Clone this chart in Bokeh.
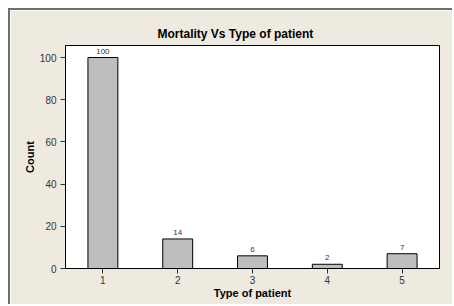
from bokeh.plotting import figure
from bokeh.models import ColumnDataSource, Range1d, FixedTicker, LabelSet
from bokeh.core.properties import value
from bokeh.embed import file_html
from bokeh.resources import INLINE

categories = [1, 2, 3, 4, 5]
counts = [100, 14, 6, 2, 7]
count_labels = ["100", "14", "6", "2", "7"]
y_ticks = [0, 20, 40, 60, 80, 100]

src = ColumnDataSource(dict(x=categories, top=counts, label=count_labels))

FONT = "Liberation Sans"
BG = "#eeeae0"

p = figure(width=444, height=296, output_backend="svg", toolbar_location=None,
           x_range=Range1d(0.5, 5.5), y_range=Range1d(0, 105.7),
           min_border_left=55, min_border_top=35, min_border_right=15, min_border_bottom=38,
           title="Mortality Vs Type of patient")
p.margin = (8, 0, 0, 8)
p.styles = {"border-left": "2px solid #6e6e6e", "border-top": "2px solid #6e6e6e"}
p.background_fill_color = "white"
p.border_fill_color = BG
p.outline_line_color = "black"
p.outline_line_width = 1
p.grid.visible = False

p.title.align = "left"
p.title.offset = 92
p.title.text_font = FONT
p.title.text_font_size = "12px"
p.title.text_font_style = "bold"
p.title.text_color = "black"
p.title.standoff = 9

p.vbar(x="x", top="top", width=0.4, bottom=0, source=src,
       fill_color="#bebebe", line_color="black", line_width=1)
p.add_layout(LabelSet(x="x", y="top", text="label", source=src, text_align="center",
                      text_baseline="bottom", y_offset=4, text_font_size=value("8px"),
                      text_font=value(FONT), text_color=value("#333333")))

for ax in (p.xaxis[0], p.yaxis[0]):
    ax.axis_line_color = "black"
    ax.major_tick_line_color = "#333333"
    ax.major_tick_out = 5
    ax.major_tick_in = 0
    ax.minor_tick_line_color = None
    ax.major_label_text_font = FONT
    ax.major_label_text_font_size = "10px"
    ax.major_label_text_color = "#333333"
    ax.axis_label_text_font = FONT
    ax.axis_label_text_font_size = "11px"
    ax.axis_label_text_font_style = "bold"
    ax.axis_label_text_color = "black"

p.xaxis.ticker = FixedTicker(ticks=categories)
p.yaxis.ticker = FixedTicker(ticks=y_ticks)
p.xaxis.axis_label = "Type of patient"
p.yaxis.axis_label = "Count"
p.xaxis.major_label_standoff = 2
p.xaxis.axis_label_standoff = 0
p.yaxis.major_label_standoff = 4
p.yaxis.axis_label_standoff = 1

open("out.html", "w").write(file_html(p, INLINE))
